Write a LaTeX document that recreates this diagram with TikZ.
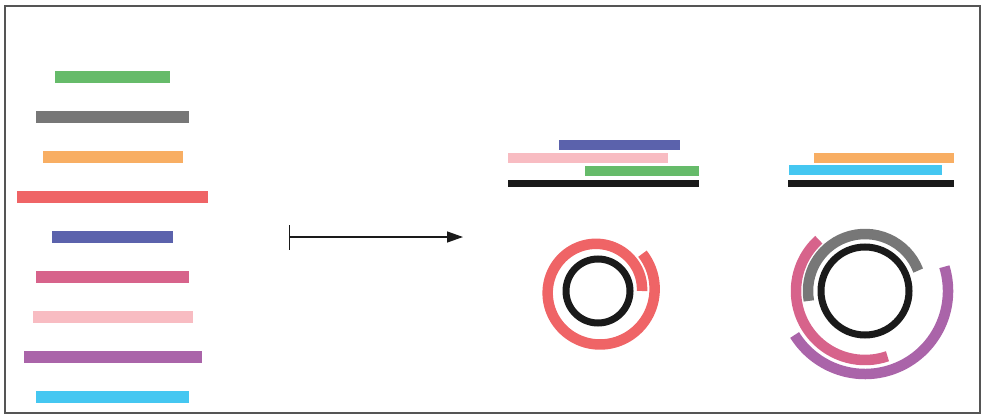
\documentclass[tikz,border=0pt]{standalone}
\usetikzlibrary{arrows.meta,positioning,calc}
\usepackage{xcolor}
\definecolor{rgreen}{HTML}{66BB6A}
\definecolor{rgray}{HTML}{777777}
\definecolor{rorange}{HTML}{F8AE63}
\definecolor{rred}{HTML}{EF6466}
\definecolor{rblue}{HTML}{5B62AC}
\definecolor{rmagenta}{HTML}{D7638B}
\definecolor{rpink}{HTML}{F8BCC2}
\definecolor{rpurple}{HTML}{AA64A9}
\definecolor{rcyan}{HTML}{45C7F1}
\definecolor{refblack}{HTML}{1A1A1A}
\definecolor{framegray}{HTML}{555555}

\begin{document}
\begin{tikzpicture}[x=1pt,y=-1pt,
  bar/.style={inner sep=0pt,outer sep=0pt,minimum height=12pt},
  thinbar/.style={inner sep=0pt,outer sep=0pt,minimum height=10pt},
  refbar/.style={inner sep=0pt,outer sep=0pt,minimum height=7pt,fill=refblack},
  ring/.style={line width=10.5pt}]
\useasboundingbox (0,0) rectangle (987,415);
\draw[framegray,line width=1.2pt] (5,6) rectangle (980,413);
% reads
\node[bar,fill=rgreen,minimum width=115pt] (r1) at (112.5,77) {};
\node[bar,fill=rgray,minimum width=153pt] (r2) at (112.5,117) {};
\node[bar,fill=rorange,minimum width=140pt] (r3) at (113,157) {};
\node[bar,fill=rred,minimum width=191pt] (r4) at (112.5,197) {};
\node[bar,fill=rblue,minimum width=121pt] (r5) at (112.5,237) {};
\node[bar,fill=rmagenta,minimum width=153pt] (r6) at (112.5,277) {};
\node[bar,fill=rpink,minimum width=160pt] (r7) at (113,317) {};
\node[bar,fill=rpurple,minimum width=178pt] (r8) at (113,357) {};
\node[bar,fill=rcyan,minimum width=153pt] (r9) at (112.5,397) {};
% map arrow
\coordinate (from) at (289,237);
\coordinate (to) at (463,237);
\draw[{Bar[width=25pt]}-{Triangle[length=16pt,width=11pt]},line width=1.3pt,refblack] (from) -- (to);
% linear references
\node[thinbar,fill=rblue,minimum width=121pt] (a1) at (619.5,145) {};
\node[thinbar,fill=rpink,minimum width=160pt] (a2) at (588,158) {};
\node[thinbar,fill=rgreen,minimum width=114pt] (a3) at (642,170.5) {};
\node[refbar,minimum width=191pt] (aref) at (603.5,183.5) {};
\node[thinbar,fill=rorange,minimum width=140pt] (b1) at (884,157.5) {};
\node[thinbar,fill=rcyan,minimum width=153pt] (b2) at (865,170.3) {};
\node[refbar,minimum width=166pt] (bref) at (871,183.3) {};
% circular references
\coordinate (c1) at (598,291);
\coordinate (c2) at (865,291);
\begin{scope}[shift={(c1)},y=1pt]
\draw[refblack,line width=7pt] (0,0) circle[radius=32pt];
\draw[ring,rred] plot[domain=40:-360,samples=160] (\x:{58-(40-\x)*0.035});
\end{scope}
\begin{scope}[shift={(c2)},y=1pt]
\draw[refblack,line width=7pt] (0,0) circle[radius=44pt];
\draw[ring,rgray] (21:57) arc[start angle=21,end angle=190,radius=57pt];
\draw[ring,rmagenta] (132:69) arc[start angle=132,end angle=289,radius=69pt];
\draw[ring,rpurple] (17:83) arc[start angle=17,end angle=-148,radius=83pt];
\end{scope}
\end{tikzpicture}
\end{document}
